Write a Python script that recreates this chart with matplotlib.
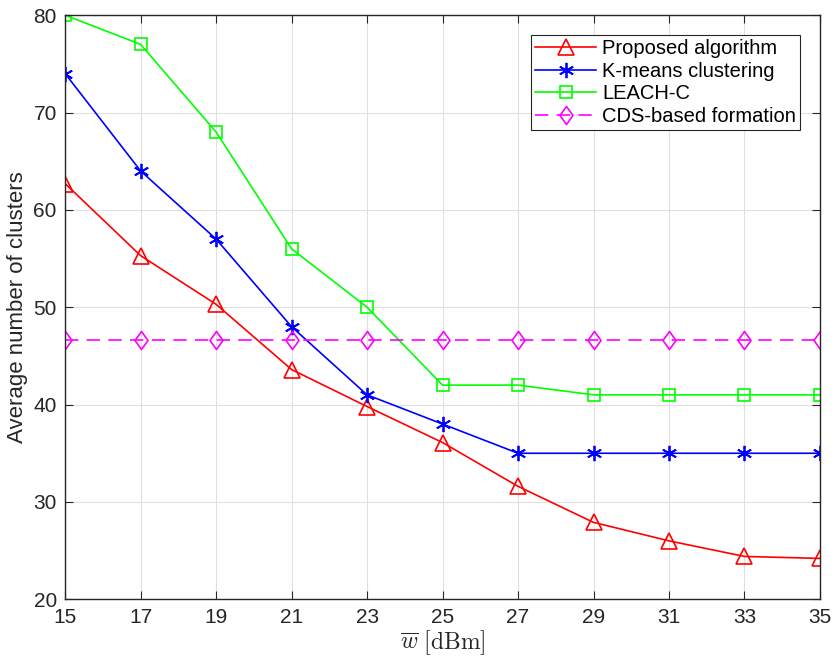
import numpy as np
import matplotlib
matplotlib.use("Agg")
import matplotlib.pyplot as plt
from matplotlib.path import Path

plt.rcParams['font.family'] = ['Liberation Sans', 'DejaVu Sans']
plt.rcParams['mathtext.fontset'] = 'cm'

w_dbm = [15, 17, 19, 21, 23, 25, 27, 29, 31, 33, 35]
proposed = [62.7, 55.3, 50.3, 43.6, 39.8, 36.1, 31.6, 27.9, 26.0, 24.4, 24.2]
kmeans = [74, 64, 57, 48, 41, 38, 35, 35, 35, 35, 35]
leach_c = [80, 77, 68, 56, 50, 42, 42, 41, 41, 41, 41]
cds = [46.6] * len(w_dbm)

# MATLAB-like diamond (a bit taller than wide)
diamond = Path([(0, 1), (0.72, 0), (0, -1), (-0.72, 0), (0, 1)],
               [Path.MOVETO, Path.LINETO, Path.LINETO, Path.LINETO, Path.CLOSEPOLY])

fig = plt.figure(figsize=(8.35, 6.6), dpi=100)
ax = fig.add_axes([0.078, 0.092, 0.904, 0.885])

ax.plot(w_dbm, proposed, color='red', marker='^', markersize=11, mfc='none',
        mew=1.2, lw=1.2, label='Proposed algorithm')
ax.plot(w_dbm, kmeans, color='blue', marker=(6, 2, 0), markersize=11, mfc='none',
        mew=1.3, lw=1.2, label='K-means clustering')
ax.plot(w_dbm, leach_c, color=(0, 1, 0), marker='s', markersize=8, mfc='none',
        mew=1.2, lw=1.2, label='LEACH-C')
ax.plot(w_dbm, cds, color='magenta', marker=diamond, markersize=13, mfc='none',
        mew=1.2, lw=1.2, ls=(0, (8, 5)), label='CDS-based formation')

ax.set_xlim(15, 35)
ax.set_ylim(20, 80)
ax.set_xticks(w_dbm)
ax.set_yticks(range(20, 81, 10))
ax.grid(True, color='#e0e0e0', lw=0.8)
ax.set_axisbelow(True)
ax.tick_params(direction='in', top=True, right=True, labelsize=15,
               colors='#262626', length=6, pad=6)
for s in ax.spines.values():
    s.set_color('#262626')
    s.set_linewidth(1.0)

ax.set_xlabel(r'$\overline{w}\ \mathrm{[dBm]}$', fontsize=17, color='#262626', labelpad=1)
ax.set_ylabel('Average number of clusters', fontsize=16, color='#262626', labelpad=4)

leg = ax.legend(loc='upper right', fontsize=14.5, fancybox=False, framealpha=1,
                edgecolor='#262626', borderpad=0.2, handlelength=3.0,
                labelspacing=0.17, handletextpad=0.3, borderaxespad=1.0)
leg.get_frame().set_linewidth(0.8)

fig.savefig('out.png', dpi=100)
